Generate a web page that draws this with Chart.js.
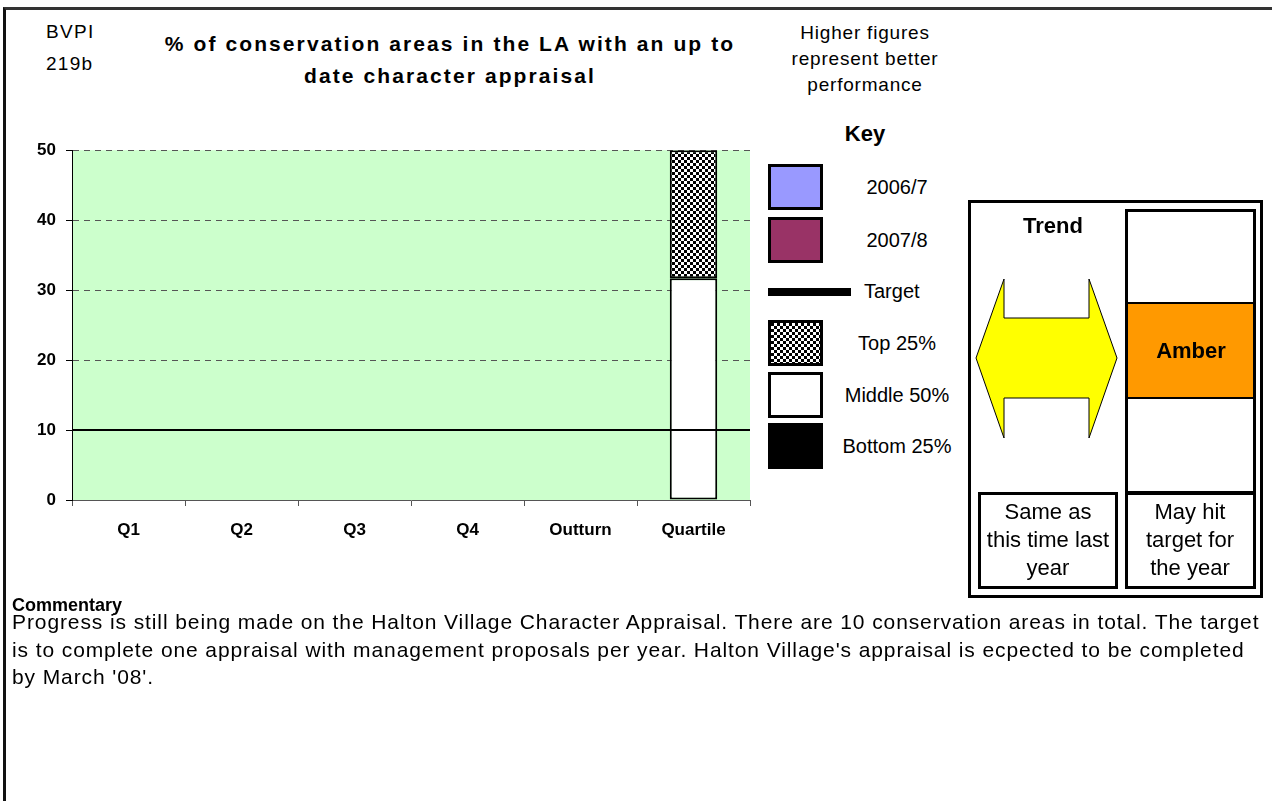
<!DOCTYPE html>
<html>
<head>
<meta charset="utf-8">
<script src="https://cdn.jsdelivr.net/npm/chart.js@4.4.1/dist/chart.umd.min.js"></script>
<style>
  html, body { margin: 0; padding: 0; background: #fff; }
  body { width: 1272px; height: 801px; position: relative; overflow: hidden;
         font-family: "Liberation Sans", Arial, Helvetica, sans-serif; color: #000; }
  .frame { position: absolute; left: 3px; top: 7px; width: 1400px; height: 900px;
           border-left: 3px solid #111; border-top: 3px solid #333; }
  .t { position: absolute; white-space: nowrap; line-height: 1; }
  .box { position: absolute; box-sizing: border-box; border: 3px solid #000; background: #fff; }
  #chartWrap { position: absolute; left: 0; top: 130px; width: 760px; height: 430px; }
  svg { position: absolute; left: 0; top: 0; }
</style>
</head>
<body>
<div class="frame"></div>
<div id="chartWrap"><canvas id="c" width="760" height="430"></canvas></div>
<div id="layer"></div>
<script>
// ---- data ----
const categories = ['Q1', 'Q2', 'Q3', 'Q4', 'Outturn', 'Quartile'];
const series2006 = [null, null, null, null, null, null];
const series2007 = [null, null, null, null, null, null];
const quartileBottom = [null, null, null, null, null, 0];
const quartileMiddle = [null, null, null, null, null, 31.7];
const quartileTop = [null, null, null, null, null, 18.3];
const targetValues = [10, 10, 10, 10, 10, 10];
const yTicks = [0, 10, 20, 30, 40, 50];
const seriesNames = ['2006/7', '2007/8', 'Target', 'Top 25%', 'Middle 50%', 'Bottom 25%'];

// ---- styles ----
const FONT = '"Liberation Sans", Arial, Helvetica, sans-serif';
const colors = { s2006: '#9999FF', s2007: '#993366', middle: '#FFFFFF', bottom: '#000000', plot: '#CCFFCC' };

// checkerboard fill for the top quartile
const patCanvas = document.createElement('canvas');
patCanvas.width = 6; patCanvas.height = 6;
(function () {
  const p = patCanvas.getContext('2d');
  p.fillStyle = '#fff'; p.fillRect(0, 0, 6, 6);
  p.fillStyle = '#000'; p.fillRect(0, 0, 3, 3); p.fillRect(3, 3, 3, 3);
})();
const ctx = document.getElementById('c').getContext('2d');
const checker = ctx.createPattern(patCanvas, 'repeat');

const plotBackground = {
  id: 'plotBackground',
  beforeDraw(chart) {
    const a = chart.chartArea, g = chart.ctx;
    g.save(); g.fillStyle = colors.plot;
    g.fillRect(a.left, a.top, a.right - a.left, a.bottom - a.top);
    g.restore();
  }
};

const barCommon = { borderColor: '#000', borderWidth: 2, borderSkipped: false, grouped: false,
                    barPercentage: 0.42, categoryPercentage: 1, stack: 'q', xAxisID: 'x', order: 1 };

new Chart(ctx, {
  type: 'bar',
  data: {
    labels: categories,
    datasets: [
      Object.assign({ label: seriesNames[0], data: series2006, backgroundColor: colors.s2006 }, barCommon),
      Object.assign({ label: seriesNames[1], data: series2007, backgroundColor: colors.s2007 }, barCommon),
      Object.assign({ label: seriesNames[5], data: quartileBottom, backgroundColor: colors.bottom }, barCommon),
      Object.assign({ label: seriesNames[4], data: quartileMiddle, backgroundColor: colors.middle }, barCommon),
      Object.assign({ label: seriesNames[3], data: quartileTop, backgroundColor: checker }, barCommon),
      { type: 'line', label: seriesNames[2], data: targetValues, xAxisID: 'x2',
        borderColor: '#000', borderWidth: 2, pointRadius: 0, fill: false, order: 0 }
    ]
  },
  options: {
    responsive: false, animation: false, devicePixelRatio: 1,
    layout: { padding: { left: 0, right: 10, top: 20, bottom: 10 } },
    plugins: { legend: { display: false }, tooltip: { enabled: false }, title: { display: false } },
    scales: {
      x: {
        stacked: true, offset: true,
        grid: { display: true, drawOnChartArea: false, tickLength: 6, color: '#555', offset: true },
        border: { display: true, color: '#555', width: 1 },
        ticks: { color: '#000', padding: 14, font: { family: FONT, size: 17, weight: 'bold' }, maxRotation: 0 },
        afterFit(s) { s.height = 50; }
      },
      x2: { type: 'category', labels: categories, offset: false, display: false },
      y: {
        stacked: true, min: 0, max: 50,
        afterBuildTicks(s) { s.ticks = yTicks.map(v => ({ value: v })); },
        grid: { color: '#555', tickBorderDash: [], tickColor: '#000', tickLength: 6, lineWidth: 1 },
        border: { display: true, color: '#000', width: 1, dash: [6, 5] },
        ticks: { color: '#000', padding: 10, font: { family: FONT, size: 17, weight: 'bold' } },
        afterFit(s) { s.width = 72; }
      }
    }
  },
  plugins: [plotBackground]
});

// ---- page text and key ----
const layer = document.getElementById('layer');
function text(str, x, baseline, size, opts) {
  opts = opts || {};
  const el = document.createElement('div');
  el.className = 't';
  el.textContent = str;
  el.style.fontSize = size + 'px';
  el.style.fontWeight = opts.bold ? 'bold' : 'normal';
  if (opts.ls) el.style.letterSpacing = opts.ls + 'px';
  el.style.top = (baseline - 0.8465 * size) + 'px';
  el.style.left = x + 'px';
  if (opts.align === 'center') el.style.transform = 'translateX(-50%)';
  layer.appendChild(el);
  return el;
}
function box(x, y, w, h, bg, bw) {
  const el = document.createElement('div');
  el.className = 'box';
  Object.assign(el.style, { left: x + 'px', top: y + 'px', width: w + 'px', height: h + 'px' });
  if (bg) el.style.background = bg;
  if (bw !== undefined) el.style.borderWidth = bw + 'px';
  layer.appendChild(el);
  return el;
}

text('BVPI', 46, 38, 19, { ls: 1.3 });
text('219b', 46, 70, 19, { ls: 1.3 });
text('% of conservation areas in the LA with an up to', 450, 51, 21, { bold: true, align: 'center', ls: 2.1 });
text('date character appraisal', 450, 83, 21, { bold: true, align: 'center', ls: 2.1 });
text('Higher figures', 865, 39, 19, { align: 'center', ls: 0.8 });
text('represent better', 865, 65, 19, { align: 'center', ls: 0.8 });
text('performance', 865, 91, 19, { align: 'center', ls: 0.8 });

// key
text('Key', 865, 142, 22, { bold: true, align: 'center' });
const keyItems = [
  { name: seriesNames[0], fill: colors.s2006, top: 164 },
  { name: seriesNames[1], fill: colors.s2007, top: 217 },
  { name: seriesNames[3], fill: 'url(' + patCanvas.toDataURL() + ')', top: 320 },
  { name: seriesNames[4], fill: colors.middle, top: 372 },
  { name: seriesNames[5], fill: colors.bottom, top: 423 }
];
keyItems.forEach(k => {
  const b = box(768, k.top, 55, 46, null);
  b.style.background = k.fill;
  text(k.name, 897, k.top + 30, 20, { align: 'center' });
});
const tline = document.createElement('div');
Object.assign(tline.style, { position: 'absolute', left: '768px', top: '288px', width: '83px', height: '8px', background: '#000' });
layer.appendChild(tline);
text(seriesNames[2], 864, 298, 20);

// trend panel
box(968, 200, 295, 398, '#fff', 3);
box(1125, 209, 131, 285, '#fff', 3);
const amber = box(1125, 302, 131, 97, '#FF9900', 2);
amber.style.borderLeftWidth = '3px'; amber.style.borderRightWidth = '3px';
box(978, 492, 140, 97, '#fff', 3);
box(1125, 492, 131, 97, '#fff', 3);

const svgNS = 'http://www.w3.org/2000/svg';
const svg = document.createElementNS(svgNS, 'svg');
svg.setAttribute('width', '1272'); svg.setAttribute('height', '801');
const poly = document.createElementNS(svgNS, 'polygon');
poly.setAttribute('points', '976,358 1004,279 1004,318 1089,318 1089,279 1117,358 1089,438 1089,398 1004,398 1004,438');
poly.setAttribute('fill', '#FFFF00'); poly.setAttribute('stroke', '#000'); poly.setAttribute('stroke-width', '1');
svg.appendChild(poly);
layer.appendChild(svg);

text('Trend', 1053, 234, 22, { bold: true, align: 'center' });
text('Amber', 1191, 359, 22, { bold: true, align: 'center' });
text('Same as', 1048, 520, 22, { align: 'center' });
text('this time last', 1048, 548, 22, { align: 'center' });
text('year', 1048, 576, 22, { align: 'center' });
text('May hit', 1190, 520, 22, { align: 'center' });
text('target for', 1190, 548, 22, { align: 'center' });
text('the year', 1190, 576, 22, { align: 'center' });

// commentary
text('Commentary', 12, 611, 18, { bold: true });
text('Progress is still being made on the Halton Village Character Appraisal. There are 10 conservation areas in total. The target', 12, 629, 21, { ls: 0.9 });
text("is to complete one appraisal with management proposals per year. Halton Village's appraisal is ecpected to be completed", 12, 657, 21, { ls: 0.9 });
text("by March '08'.", 12, 684, 21, { ls: 0.9 });
</script>
</body>
</html>
